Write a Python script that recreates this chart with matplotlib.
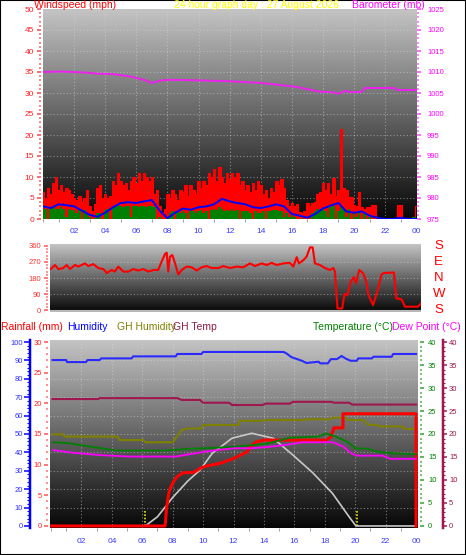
import numpy as np
import matplotlib
matplotlib.use('Agg')
import matplotlib.pyplot as plt
from matplotlib.colors import LinearSegmentedColormap
from matplotlib.patches import Rectangle
from matplotlib.ticker import MultipleLocator

plt.rcParams['font.family'] = ['Liberation Sans', 'DejaVu Sans']

# ---------------- data ----------------
hour_labels = ['02', '04', '06', '08', '10', '12', '14', '16', '18', '20', '22', '00']
hour_ticks = [2, 4, 6, 8, 10, 12, 14, 16, 18, 20, 22, 24]

# wind gust (mph), every 10 min from 00:00 to 24:00
gust = [6.5, 5, 7.5, 6, 8.5, 10,
        7, 8, 6.5, 7.5, 7, 6,
        5, 4.5, 5.5, 4, 5, 7,
        3, 2, 3.5, 7.5, 8, 5,
        6, 5, 5.5, 9, 8, 11,
        9, 8, 8.5, 7, 9, 10,
        8.5, 11, 9, 11, 10, 9,
        10, 6, 7, 3, 1.5, 2.5,
        6, 5, 7, 6, 4.5, 7,
        6.5, 8, 5.5, 8, 7, 6,
        9, 7.5, 9, 8, 11, 10,
        12, 9, 12.4, 10, 8.5, 11,
        9.5, 11, 10, 11, 8, 9,
        7, 8, 6.5, 8.5, 7, 9,
        8, 6, 7, 5, 7.5, 6.5,
        9, 8, 9.5, 7.5, 4.5, 3,
        3.7, 3, 3.5, 1.7, 1.5, 2,
        3.7, 3, 3.7, 4, 6, 6.5,
        8.5, 7, 8.5, 6, 9.7, 5.4,
        7, 21.5, 7.3, 7, 5.3, 5.3,
        3.3, 3, 6.5, 2.9, 2.5, 2.9,
        2.9, 3.3, 3.3, 0.2, 0, 0,
        0, 0, 0, 0, 0, 3.3,
        3.3, 0, 0, 0, 0, 0,
        3]
# wind speed (mph), every 10 min
wind = [2.5, 2.5, 0, 2.5, 2.8, 2.5,
        2.5, 2.8, 2.5, 0.5, 2.5, 2.2,
        2.2, 1.5, 2.5, 0, 2.2, 1.5,
        0.5, 0, 0.3, 1.5, 1.5, 0,
        2.2, 2.5, 0, 2.8, 2.8, 3,
        3, 2.8, 3, 3, 0.5, 3,
        3, 2.8, 3, 3, 2.8, 3,
        3, 2.8, 0, 0.5, 0, 0,
        0.5, 1.5, 1.8, 0, 1.8, 1.5,
        2, 1.5, 0, 1.8, 2, 1.5,
        1.8, 2.2, 1.5, 2, 0, 2.2,
        2.5, 2.2, 2.8, 2.5, 2, 2.2,
        2, 2.5, 1.8, 2.2, 0, 2,
        1.8, 2, 1.5, 0, 1.8, 1.5,
        1.5, 1.8, 0, 2, 1.8, 2.2,
        2.2, 1.8, 2, 0.5, 1.5, 0.5,
        1, 0.5, 0, 0, 0.3, 0,
        0, 0, 1.5, 2, 2.5, 1.8,
        2.5, 2, 0.5, 2.8, 3, 0,
        2, 3, 2.5, 0.5, 2.5, 0,
        1.5, 0.5, 2, 0, 1.5, 0,
        0.5, 0, 0, 0, 0, 0,
        0, 0, 0, 0, 0, 0,
        0, 0, 0, 0, 0, 0.5,
        0.5]
# average wind (mph), every 30 min
avg_wind = [3.0, 2.6, 3.5, 3.3, 3.0, 2.0, 1.0, 0.5, 1.5, 2.8,
            3.8, 4.0, 3.8, 4.2, 4.5, 2.0, 0.2, 1.5, 2.5, 2.2,
            2.8, 3.0, 3.5, 4.8, 4.2, 3.8, 3.5, 2.8, 2.6, 3.0,
            3.5, 3.0, 1.2, 0.8, 0.3, 1.2, 2.5, 3.2, 3.8, 1.8,
            1.5, 1.8, 0.8, 0.3, 0, 0, 0.3, 0, 0]

baro_h = [0, 1, 2, 3, 3.5, 4.5, 5.5, 6, 6.6, 7.0, 7.4, 7.8, 9, 10, 11, 12, 13, 14,
          15, 16, 16.5, 17.8, 18.6, 19.0, 19.4, 19.8, 20.5, 20.7, 22.6, 22.8, 24]
baro = [1010.0, 1010.1, 1010.0, 1009.8, 1009.6, 1009.5, 1009.0, 1008.6, 1008.0, 1007.4,
        1007.8, 1008.1, 1008.1, 1008.0, 1007.9, 1007.8, 1007.6, 1007.4, 1007.0, 1006.6,
        1006.3, 1005.3, 1005.2, 1004.8, 1005.5, 1005.2, 1005.3, 1006.2, 1006.2, 1005.7, 1005.7]

dir_h = [0.04, 0.32, 0.54, 0.86, 1.08, 1.29, 1.62, 1.83, 2.05, 2.26, 2.48, 2.80, 3.12,
         3.45, 3.67, 3.99, 4.2, 4.42, 4.74, 5.07, 5.39, 5.71, 6.04, 6.36, 6.69, 7.0,
         7.22, 7.44, 7.55, 7.65, 7.76, 7.91, 8.09, 8.30, 8.52, 8.84, 9.17, 9.49, 9.81,
         10.14, 10.46, 10.89, 11.21, 11.64, 12.08, 12.5, 12.94, 13.26, 13.69, 14.02,
         14.34, 14.66, 15.09, 15.52, 15.74, 15.96, 16.1, 16.39, 16.6, 16.82, 16.99,
         17.14, 17.46, 17.79, 18.11, 18.33, 18.43, 18.6, 18.9, 19.05, 19.25, 19.45,
         19.65, 19.8, 20.0, 20.25, 20.45, 20.6, 20.9, 21.2, 21.45, 21.6, 22.25, 22.4,
         22.75, 22.96, 23.8, 24.0]
wind_dir = [230, 253, 230, 236, 253, 230, 253, 244, 253, 262, 247, 258, 236,
            230, 208, 225, 216, 244, 216, 216, 230, 222, 230, 216, 225, 225,
            272, 315, 322, 216, 300, 309, 262, 200, 225, 244, 240, 222, 240,
            247, 236, 236, 247, 236, 244, 240, 262, 247, 262, 253,
            265, 253, 262, 265, 244, 297, 262, 280, 300, 352, 352,
            262, 253, 236, 225, 236, 216, 9, 9, 90, 85, 160,
            185, 150, 225, 208, 165, 84, 28, 112, 200, 208, 211, 66,
            60, 19, 19, 37]

hum_h = [0.1, 1.0, 1.05, 1.2, 2.3, 2.4, 3.2, 3.3, 5.3, 5.4, 8.2, 8.3, 9.9, 10.0, 15.3, 15.5,
         15.8, 16.5, 16.8, 17.6, 17.7, 18.2, 18.4, 18.8, 19.1, 19.4, 19.7, 20.1, 20.2,
         21.1, 21.2, 22.4, 22.5, 24.0]
humidity = [90.2, 90.2, 89.1, 89.1, 89.1, 90.2, 90.2, 91.1, 91.1, 92.2, 92.2, 93.5, 93.5, 94.6,
            94.6, 93.7, 91.8, 89.8, 88.6, 89.3, 88.4, 88.4, 90.7, 90.7, 92.4, 90.9, 89.8,
            89.8, 91.1, 91.1, 92.0, 92.0, 93.5, 93.5]

ghh_h = [0.1, 0.8, 0.9, 4.4, 4.5, 6.1, 6.2, 8.0, 8.6, 9.0, 9.9, 10.0, 12.3, 12.4, 14.0,
         14.1, 16.7, 16.8, 18.4, 18.5, 19.4, 19.5, 20.5, 20.9, 21.5, 21.6, 23.1, 23.2, 24.0]
gh_humidity = [49.8, 49.8, 48.6, 48.6, 46.7, 46.7, 45.5, 45.5, 52.2, 53.0, 53.0, 54.9, 54.9,
               57.2, 57.2, 57.6, 57.6, 58.0, 58.0, 58.9, 58.9, 57.6, 57.6, 54.9, 54.9, 54.1,
               54.1, 52.8, 52.8]

ght_h = [0.1, 3.1, 3.2, 8.3, 8.6, 9.8, 10.0, 11.7, 11.9, 13.9, 14.1, 15.7, 15.9, 18.4,
         18.6, 19.6, 19.8, 24.0]
gh_temp = [27.6, 27.6, 27.8, 27.8, 27.4, 27.4, 26.8, 26.8, 26.3, 26.3, 26.6, 26.6, 27.0,
           27.0, 26.8, 26.8, 26.4, 26.4]

temp_h = [0.15, 1.2, 2.1, 3.5, 4.3, 7.6, 8.7, 12.0, 14.2, 15.7, 17.5, 18.1, 18.6, 19.5,
          20.0, 20.8, 21.4, 22.5, 24.0]
temperature = [18.2, 18.0, 17.5, 16.8, 16.4, 16.4, 16.7, 17.2, 17.9, 19.2, 19.4, 20.1,
               19.6, 18.3, 16.9, 16.8, 16.2, 15.8, 15.6]

dew_h = [0.15, 1.5, 3.3, 5.1, 8.2, 10.2, 12.0, 13.2, 14.3, 15.4, 16.5, 18.5, 19.2, 19.7,
         20.1, 21.8, 22.3, 24.0]
dew_point = [16.5, 15.9, 15.4, 15.1, 15.1, 16.2, 16.9, 16.9, 17.2, 17.6, 18.2, 18.2,
             17.3, 15.9, 15.3, 15.3, 14.6, 14.6]

rain_h = [0, 7.5, 7.6, 7.72, 7.83, 8.05, 8.27, 8.7, 9.36, 9.8, 10.24, 11.1, 12.0, 12.9,
          13.2, 13.5, 14.0, 18.1, 18.4, 18.6, 19.2, 19.2, 24.0, 24.0]
rainfall = [0, 0, 3.0, 5.0, 6.1, 7.2, 8.0, 8.7, 8.7, 9.4, 9.8, 10.2, 11.0, 12.1, 13.2,
            13.7, 14.0, 14.0, 14.5, 16.0, 16.0, 18.3, 18.3, 0]

solar_h = [0, 6.2, 7, 8, 9, 9.8, 10.6, 11.9, 13.2, 14.6, 15.9, 17.2, 18.5, 19.6, 20.05, 24]
solar = [0, 0, 5, 15.5, 24.5, 30.4, 39.5, 47.7, 50.4, 47.7, 38.6, 29, 17.8, 5, 0, 0]

sun_events = [6.2, 20.1]

# ---------------- layout ----------------
W, H = 466, 555
fig = plt.figure(figsize=(W / 100, H / 100), dpi=100)
fig.patch.set_facecolor('white')
PX = 72 / 100  # points per pixel


def box(l, t, r, b):
    return [l / W, 1 - b / H, (r - l) / W, (b - t) / H]


def ftext(x, y, s, color, ha='left', size=7.5, va='center'):
    fig.text(x / W, 1 - y / H, s, color=color, ha=ha, va=va, fontsize=size)


cmap = LinearSegmentedColormap.from_list('bg', ['#060606', '#c4c4c4'], N=256)


def gradient(ax):
    x0, x1 = ax.get_xlim()
    y0, y1 = ax.get_ylim()
    ax.imshow(np.linspace(1, 0, 256).reshape(-1, 1), cmap=cmap, aspect='auto',
              extent=[x0, x1, y0, y1], zorder=0, interpolation='bilinear', vmin=0, vmax=1)
    ax.set_xlim(x0, x1)
    ax.set_ylim(y0, y1)


def hide_spines(ax):
    for s in ax.spines.values():
        s.set_visible(False)


grid_kw = dict(color='#d8d8d8', linestyle=(0, (1, 2)), linewidth=0.8, alpha=0.5)
h10 = np.linspace(0, 24, len(gust))
h30 = np.linspace(0, 24, len(avg_wind))

# ---------------- top panel: wind + barometer ----------------
ax1 = fig.add_axes(box(43, 9, 417, 219))
ax1.set_xlim(0, 24.05)
ax1.set_ylim(0, 50)
gradient(ax1)
hide_spines(ax1)
for v in range(5, 50, 5):
    ax1.axhline(v, zorder=1, **grid_kw)
for v in hour_ticks[:-1]:
    ax1.axvline(v, zorder=1, **grid_kw)
ax1.fill_between(h10, gust, step='mid', color='#ff0000', lw=0, zorder=2)
ax1.step(h10, gust, where='mid', color='#ff0000', lw=0.8, zorder=2)
ax1.fill_between(h10, wind, step='mid', color='#008000', lw=0, zorder=3)
ax1.plot(h30, avg_wind, color='#0000ff', lw=1.4, zorder=4)
ax1.yaxis.set_major_locator(MultipleLocator(5))
ax1.yaxis.set_minor_locator(MultipleLocator(1))
ax1.tick_params(axis='y', which='major', colors='#ff4040', labelcolor='#ff2020', length=4 * PX,
                width=1.5 * PX, pad=3 * PX, labelsize=6)
ax1.tick_params(axis='y', which='minor', colors='#ff6060', length=2 * PX, width=1.5 * PX)
ax1.spines['left'].set_position(('outward', 2 * PX))
ax1.set_xticks(hour_ticks)
ax1.set_xticklabels(hour_labels)
ax1.xaxis.set_minor_locator(MultipleLocator(1))
ax1.tick_params(axis='x', which='major', length=0, pad=9 * PX, labelsize=6, labelcolor='#3c3cff')
ax1.tick_params(axis='x', which='minor', length=3 * PX, color='#909090')

ax1b = ax1.twinx()
hide_spines(ax1b)
ax1b.set_ylim(975, 1025)
ax1b.plot(baro_h, baro, color='#ee22ee', lw=1.4, zorder=5)
ax1b.yaxis.set_major_locator(MultipleLocator(5))
ax1b.yaxis.set_minor_locator(MultipleLocator(1))
ax1b.tick_params(axis='y', which='major', colors='#ff40ff', labelcolor='#ff00ff', length=4 * PX,
                 width=1.5 * PX, pad=6 * PX, labelsize=5.5)
ax1b.tick_params(axis='y', which='minor', colors='#ff60ff', length=2 * PX, width=1.5 * PX)

ftext(34, 5.5, 'Windspeed (mph)', '#ff0000', size=7.5)
ftext(257, 5.5, '24 hour graph day : 27 August 2026', '#ffff00', ha='center', size=7.5)
ftext(425, 5.5, 'Barometer (mb)', '#ff00ff', ha='right', size=7.5)

# ---------------- wind direction panel ----------------
ax2 = fig.add_axes(box(50, 244, 421, 312))
ax2.set_xlim(0, 24)
ax2.set_ylim(-11, 371)
gradient(ax2)
hide_spines(ax2)
for v in (90, 180, 270):
    ax2.axhline(v, zorder=1, **grid_kw)
ax2.axhline(-6, color='#b8b8b8', lw=1.5, zorder=1)
ax2.plot(dir_h, wind_dir, color='#ff0000', lw=1.5, zorder=3)
ax2.set_yticks([0, 90, 180, 270, 360])
ax2.set_yticklabels(['0', '90', '180', '270', '360'])
ax2.yaxis.set_minor_locator(MultipleLocator(18))
ax2.spines['left'].set_position(('outward', 2 * PX))
ax2.tick_params(axis='y', which='major', colors='#ff5050', labelcolor='#ff3030', length=4 * PX,
                width=1.5 * PX, pad=3 * PX, labelsize=5.5)
ax2.tick_params(axis='y', which='minor', colors='#ff7070', length=2 * PX, width=1.5 * PX)
ax2.set_xticks([])
for lab, v in zip(['S', 'E', 'N', 'W', 'S'], [360, 270, 180, 90, 0]):
    ax2.text(1.048, (v + 11) / 382, lab, transform=ax2.transAxes, color='#ff0000',
             fontsize=9.5, ha='center', va='center')

# ---------------- bottom panel ----------------
ax3 = fig.add_axes(box(50, 340, 418, 528))
ax3.set_xlim(-0.066, 24.13)
ax3.set_ylim(-1.1, 101.1)
gradient(ax3)
hide_spines(ax3)
for v in range(10, 100, 10):
    ax3.axhline(v, zorder=1, **grid_kw)
for v in hour_ticks[:-1]:
    ax3.axvline(v, zorder=1, **grid_kw)
for v in sun_events:
    ax3.plot([v, v], [0, 8.3], color='#e8e800', lw=1.2, ls=(0, (1, 1)), zorder=2)
ax3.plot(solar_h, solar, color='#c8c8c8', lw=1.2, zorder=3)
ax3.plot(hum_h, humidity, color='#2a2aff', lw=1.5, zorder=4)
ax3.plot(ghh_h, gh_humidity, color='#808000', lw=1.5, zorder=4)
ax3.spines['left'].set_visible(True)
ax3.spines['left'].set_color('#0000ff')
ax3.spines['left'].set_linewidth(2.5 * PX)
ax3.spines['left'].set_position(('outward', 20 * PX))
ax3.yaxis.set_major_locator(MultipleLocator(10))
ax3.yaxis.set_minor_locator(MultipleLocator(2))
ax3.tick_params(axis='y', which='major', colors='#0000ff', labelcolor='#3030ff', length=6 * PX,
                width=1.5 * PX, pad=1 * PX, labelsize=5.5)
ax3.tick_params(axis='y', which='minor', colors='#0000ff', length=3 * PX, width=1 * PX)
ax3.set_xticks(hour_ticks)
ax3.set_xticklabels(hour_labels)
ax3.xaxis.set_minor_locator(MultipleLocator(1))
ax3.tick_params(axis='x', which='major', length=0, pad=10 * PX, labelsize=6, labelcolor='#3c3cff')
ax3.tick_params(axis='x', which='minor', length=3 * PX, color='#909090')

# rainfall axis (left, inner)
ax3r = ax3.twinx()
hide_spines(ax3r)
ax3r.set_ylim(-0.33, 30.33)
ax3r.yaxis.tick_left()
ax3r.spines['left'].set_position(('outward', 2 * PX))
ax3r.yaxis.set_major_locator(MultipleLocator(5))
ax3r.yaxis.set_minor_locator(MultipleLocator(1))
ax3r.tick_params(axis='y', which='major', colors='#ff5050', labelcolor='#ff2020', length=4 * PX,
                 width=1.5 * PX, pad=2 * PX, labelsize=5.5)
ax3r.tick_params(axis='y', which='minor', colors='#ff7070', length=2 * PX, width=1.5 * PX)
ax3r.plot(rain_h, rainfall, color='#ff0000', lw=2.2, zorder=5)

# temperature axis (right, inner)
ax3t = ax3.twinx()
hide_spines(ax3t)
ax3t.set_ylim(-0.44, 40.44)
ax3t.spines['right'].set_position(('outward', 2 * PX))
ax3t.yaxis.set_major_locator(MultipleLocator(5))
ax3t.yaxis.set_minor_locator(MultipleLocator(1))
ax3t.tick_params(axis='y', which='major', colors='#30a030', labelcolor='#008000', length=4 * PX,
                 width=1.5 * PX, pad=4 * PX, labelsize=5.5)
ax3t.tick_params(axis='y', which='minor', colors='#50b050', length=2 * PX, width=1.5 * PX)
ax3t.plot(temp_h, temperature, color='#008000', lw=1.3, zorder=4)
ax3t.plot(dew_h, dew_point, color='#ff00ff', lw=1.3, zorder=4)
ax3t.plot(ght_h, gh_temp, color='#a0174f', lw=1.5, zorder=4)

# GH temp axis (right, outer)
ax3g = ax3.twinx()
hide_spines(ax3g)
ax3g.set_ylim(-0.44, 40.44)
ax3g.spines['right'].set_visible(True)
ax3g.spines['right'].set_color('#a0174f')
ax3g.spines['right'].set_linewidth(2.5 * PX)
ax3g.spines['right'].set_position(('outward', 25 * PX))
ax3g.yaxis.set_major_locator(MultipleLocator(5))
ax3g.yaxis.set_minor_locator(MultipleLocator(1))
ax3g.tick_params(axis='y', which='major', colors='#a0174f', labelcolor='#a0174f', length=4 * PX,
                 width=1.5 * PX, pad=2 * PX, labelsize=5.5)
ax3g.tick_params(axis='y', which='minor', colors='#a0174f', length=2 * PX, width=1 * PX)

ftext(1, 327, 'Rainfall (mm)', '#ff0000')
ftext(67, 327, 'Humidity', '#0000ff')
ftext(117, 327, 'GH Humidity', '#808000')
ftext(173, 327, 'GH Temp', '#8b1a4a')
ftext(313, 327, 'Temperature (°C)', '#008000')
ftext(392, 327, 'Dew Point (°C)', '#ff00ff')

fig.add_artist(Rectangle((0, 0), 1, 1, transform=fig.transFigure, fill=False,
                         edgecolor='black', linewidth=1.5))

fig.savefig('out.png', dpi=100)
